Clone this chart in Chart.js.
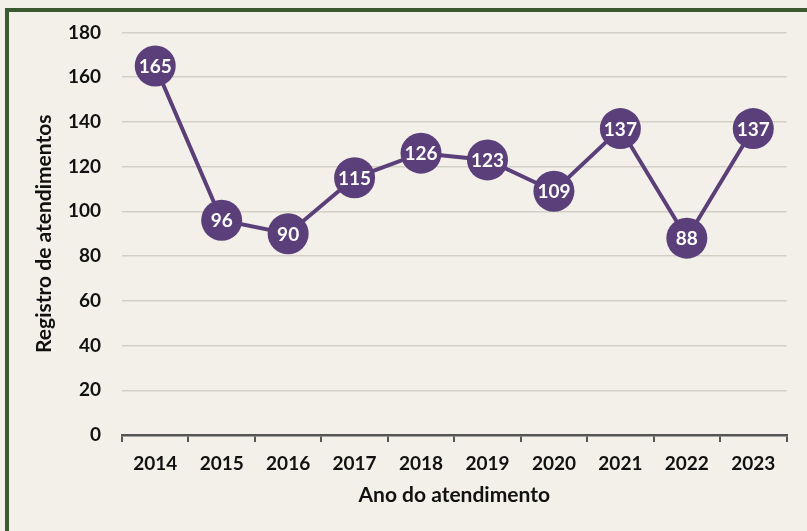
<!DOCTYPE html>
<html>
<head>
<meta charset="utf-8">
<script src="https://cdn.jsdelivr.net/npm/chart.js"></script>
<style>
  html, body { margin: 0; padding: 0; background: #f3f0e9; overflow: hidden; }
  #frame {
    position: absolute; left: 5px; top: 8px; width: 820px; height: 540px;
    border: 4px solid #3c5a31; background: #f3f0e9;
  }
  #wrap { position: absolute; left: 0; top: 0; width: 807px; height: 531px; }
</style>
</head>
<body>
<div id="frame"></div>
<div id="wrap"><canvas id="myChart_atend" width="807" height="531"></canvas></div>
<script>
// dados
const anos = ["2014", "2015", "2016", "2017", "2018", "2019", "2020", "2021", "2022", "2023"];
const registros = [165, 96, 90, 115, 126, 123, 109, 137, 88, 137];
const yMin = 0;
const yMax = 180;
const yStep = 20;

const roxo = "#5b3f7a";
const fonte = "Lato, 'Open Sans', sans-serif";

// escreve o valor dentro de cada bolinha
const rotulosPlugin = {
  id: "rotulos",
  afterDatasetsDraw(chart) {
    const ctx = chart.ctx;
    const meta = chart.getDatasetMeta(0);
    ctx.save();
    ctx.fillStyle = "#ffffff";
    ctx.font = "bold 19px " + fonte;
    ctx.textAlign = "center";
    ctx.textBaseline = "middle";
    meta.data.forEach((pt, i) => {
      ctx.fillText(String(registros[i]), pt.x, pt.y + 1);
    });
    ctx.restore();
  }
};

const ctx_atend = document.getElementById("myChart_atend").getContext("2d");
const myChart_atend = new Chart(ctx_atend, {
  type: "line",
  data: {
    labels: anos,
    datasets: [
      {
        label: "Registros",
        data: registros,
        borderColor: roxo,
        borderWidth: 4,
        backgroundColor: roxo,
        pointBackgroundColor: roxo,
        pointBorderWidth: 0,
        pointRadius: 20.5,
        pointHoverRadius: 20.5,
        tension: 0,
        fill: false,
        clip: false,
      },
    ],
  },
  options: {
    responsive: false,
    animation: false,
    events: [],
    layout: { padding: { left: 32, right: 11, top: 32, bottom: 10 } },
    plugins: {
      legend: { display: false },
      tooltip: { enabled: false },
    },
    scales: {
      y: {
        min: yMin,
        max: yMax,
        afterFit: (scale) => { scale.width = 90; },
        ticks: {
          stepSize: yStep,
          color: "#111111",
          padding: 21,
          font: { family: fonte, size: 19, weight: "bold" },
        },
        grid: { color: "#d3cfc7", lineWidth: 1.5, drawTicks: false },
        border: { display: false },
        title: {
          display: true,
          text: "Registro de atendimentos",
          color: "#111111",
          padding: 0,
          font: { family: fonte, size: 21, weight: "bold" },
        },
      },
      x: {
        offset: true,
        afterFit: (scale) => { scale.height = 86; },
        ticks: {
          color: "#111111",
          padding: 10,
          font: { family: fonte, size: 19, weight: "bold" },
        },
        grid: {
          offset: true,
          drawOnChartArea: false,
          drawTicks: true,
          tickLength: 7,
          color: "#555555",
          lineWidth: 2,
        },
        border: { display: true, color: "#555555", width: 2.5 },
        title: {
          display: true,
          text: "Ano do atendimento",
          color: "#111111",
          padding: { top: 4, bottom: 13 },
          font: { family: fonte, size: 21, weight: "bold" },
        },
      },
    },
  },
  plugins: [rotulosPlugin],
});
</script>
</body>
</html>
